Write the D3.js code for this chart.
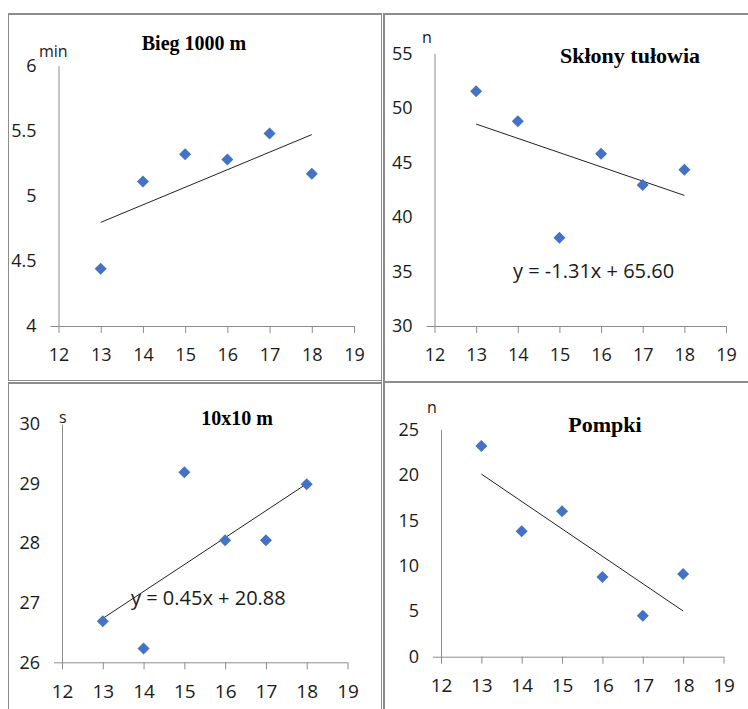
<!DOCTYPE html>
<html>
<head>
<meta charset="utf-8">
<script src="https://cdn.jsdelivr.net/npm/d3@7"></script>
<style>
    body { margin: 0; background: #fff; }
    svg { display: block; }
    .tick text { font-family: "Open Sans", sans-serif; fill: #1a1a1a; }
    .title { font-family: "Liberation Serif", serif; font-weight: bold; fill: #000; }
    .unit { font-family: "Open Sans", sans-serif; font-size: 16px; fill: #1a1a1a; }
    .eq { font-family: "Open Sans", sans-serif; font-size: 20px; fill: #1a1a1a; }
</style>
</head>
<body>
<div id="chart"></div>
<script>
// ages on the x axis
const ages = [13, 14, 15, 16, 17, 18];
const xTicks = [12, 13, 14, 15, 16, 17, 18, 19];

// mean results per age
const bieg1000 = [4.44, 5.11, 5.32, 5.28, 5.48, 5.17];
const sklony = [51.52, 48.77, 38.1, 45.8, 42.93, 44.33];
const bieg10x10 = [26.69, 26.23, 29.19, 28.05, 28.05, 28.99];
const pompki = [23.16, 13.79, 15.98, 8.76, 4.51, 9.09];

// y tick labels
const yTicks1 = [4, 4.5, 5, 5.5, 6];
const yTicks2 = [30, 35, 40, 45, 50, 55];
const yTicks3 = [26, 27, 28, 29, 30];
const yTicks4 = [0, 5, 10, 15, 20, 25];

const titles = ["Bieg 1000 m", "Skłony tułowia", "10x10 m", "Pompki"];
const units = ["min", "n", "s", "n"];
const equations = ["", "y = -1.31x + 65.60", "y = 0.45x + 20.88", ""];

const width = 748, height = 709;

const svg = d3.select("#chart").append("svg")
    .attr("width", width)
    .attr("height", height);

// table-like frame around the four charts
const frame = svg.append("g").attr("stroke", "#8c8c8c").attr("fill", "none");
[
    [8, 14, 381, 14, 2], [384, 14, 748, 14, 2],
    [8.5, 13, 8.5, 380, 1], [8.5, 383, 8.5, 709, 1],
    [381.5, 13, 381.5, 709, 1], [384, 13, 384, 709, 2],
    [8, 380.5, 382, 380.5, 1], [8, 383, 381, 383, 2], [384, 382, 748, 382, 2]
].forEach(l => {
    frame.append("line")
        .attr("x1", l[0]).attr("y1", l[1]).attr("x2", l[2]).attr("y2", l[3])
        .attr("stroke-width", l[4]);
});

// panel layout (pixel placement of each plot area)
const panels = [
    { values: bieg1000, yTicks: yTicks1, x: [58.5, 354], y: [326, 65.7], title: [194, 50, 20], unit: [39, 57], eq: null, xFont: 18, yFont: 18 },
    { values: sklony, yTicks: yTicks2, x: [434.5, 726], y: [326, 53.3], title: [630, 63, 22], unit: [422, 43], eq: [513, 278], xFont: 18, yFont: 18 },
    { values: bieg10x10, yTicks: yTicks3, x: [62, 347.5], y: [662.3, 424], title: [237, 425, 20], unit: [59, 423], eq: [131, 605], xFont: 19, yFont: 18 },
    { values: pompki, yTicks: yTicks4, x: [441, 723.5], y: [656.7, 429.3], title: [605, 432, 22], unit: [427, 413], eq: null, xFont: 19, yFont: 18 }
];

function linearFit(xs, ys) {
    const mx = d3.mean(xs), my = d3.mean(ys);
    const sxy = d3.sum(xs, (x, i) => (x - mx) * (ys[i] - my));
    const sxx = d3.sum(xs, x => (x - mx) * (x - mx));
    const slope = sxy / sxx;
    return { slope, intercept: my - slope * mx };
}

panels.forEach((p, i) => {
    const g = svg.append("g");

    const xScale = d3.scaleLinear().domain([12, 19]).range(p.x);
    const yScale = d3.scaleLinear().domain(d3.extent(p.yTicks)).range(p.y);

    // x axis, line runs a bit to the left of the y axis
    const xAxis = g.append("g")
        .attr("transform", `translate(0, ${p.y[0]})`)
        .call(d3.axisBottom(xScale).tickValues(xTicks).tickFormat(d3.format("d"))
            .tickSize(7).tickPadding(15).tickSizeOuter(0));
    xAxis.select(".domain").attr("d", `M${p.x[0] - 8},0.5H${p.x[1]}`);
    xAxis.selectAll(".tick text").style("font-size", p.xFont + "px");

    const yAxis = g.append("g")
        .attr("transform", `translate(${p.x[0]}, 0)`)
        .call(d3.axisLeft(yScale).tickValues(p.yTicks).tickSize(0).tickPadding(22).tickFormat(d3.format("")));
    yAxis.selectAll(".tick text").style("font-size", p.yFont + "px");

    g.selectAll(".domain, .tick line").attr("stroke", "#8c8c8c");

    // trend line
    const fit = linearFit(ages, p.values);
    const x0 = d3.min(ages), x1 = d3.max(ages);
    g.append("line")
        .attr("x1", xScale(x0)).attr("y1", yScale(fit.slope * x0 + fit.intercept))
        .attr("x2", xScale(x1)).attr("y2", yScale(fit.slope * x1 + fit.intercept))
        .attr("stroke", "#222")
        .attr("stroke-width", 1);

    // markers
    g.selectAll("path.pt")
        .data(p.values)
        .enter()
        .append("path")
        .attr("class", "pt")
        .attr("d", d3.symbol(d3.symbolSquare, 72))
        .attr("transform", (d, k) => `translate(${xScale(ages[k])}, ${yScale(d)}) rotate(45)`)
        .attr("fill", "#4472c4");

    g.append("text")
        .attr("class", "title")
        .attr("x", p.title[0]).attr("y", p.title[1])
        .attr("text-anchor", "middle")
        .style("font-size", p.title[2] + "px")
        .text(titles[i]);

    g.append("text")
        .attr("class", "unit")
        .attr("x", p.unit[0]).attr("y", p.unit[1])
        .text(units[i]);

    if (p.eq) {
        g.append("text")
            .attr("class", "eq")
            .attr("x", p.eq[0]).attr("y", p.eq[1])
            .text(equations[i]);
    }
});
</script>
</body>
</html>
